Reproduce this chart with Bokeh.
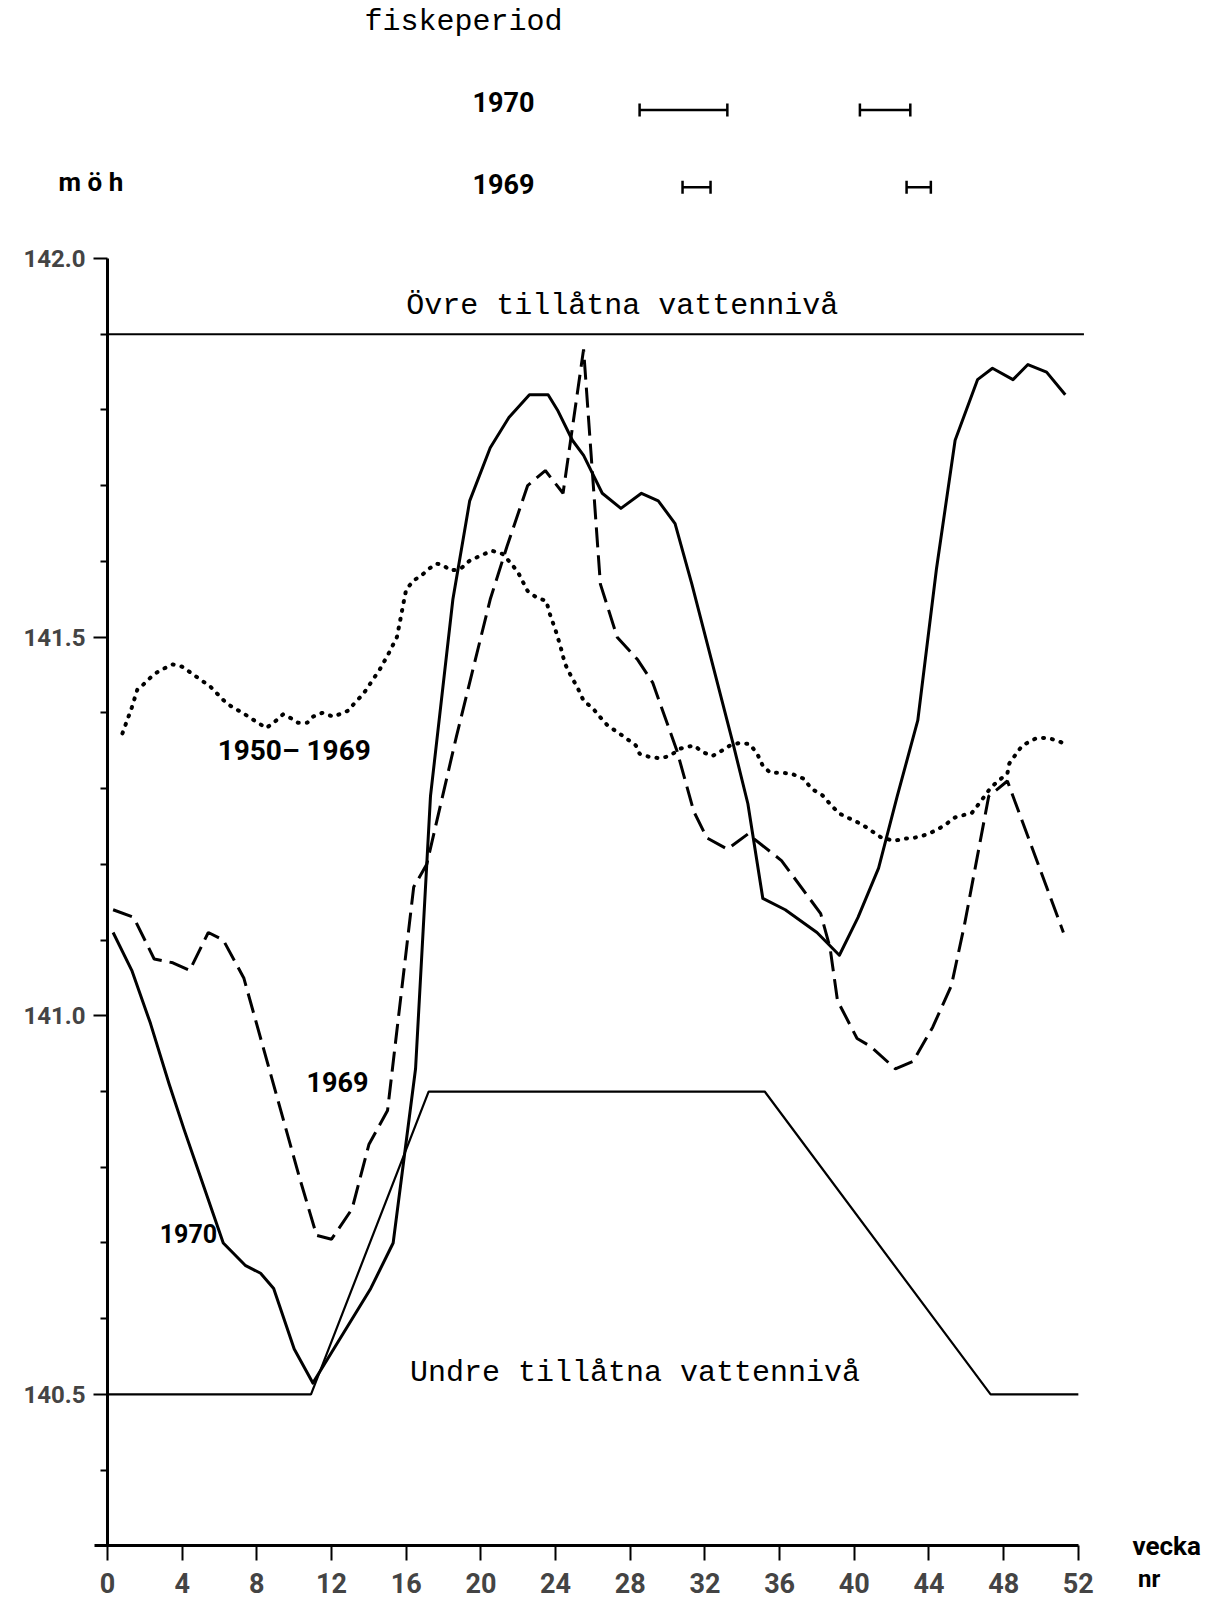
import math
from bokeh.plotting import figure
from bokeh.models import Range1d, FixedTicker, Label, LinearAxis, NumeralTickFormatter
from bokeh.embed import file_html
from bokeh.resources import INLINE

# Water level (m above sea level) per week
weeks_1970 = [0.3, 1.3, 2.3, 3.3, 4.1, 4.8, 6.2, 7.4, 8.2, 8.9, 10.0, 11.0, 14.1, 15.3, 16.5,
              17.3, 18.5, 19.4, 20.5, 21.5, 22.6, 23.6, 24.1, 24.9, 25.5, 26.5, 27.5, 28.6,
              29.5, 30.4, 31.3, 33.5, 34.3, 35.1, 36.3, 38.0, 39.2, 40.2, 41.3, 42.3, 43.4,
              44.4, 45.4, 46.6, 47.4, 48.5, 49.3, 50.3, 51.3]
level_1970 = [141.11, 141.06, 140.99, 140.91, 140.85, 140.80, 140.70, 140.67, 140.66, 140.64,
              140.56, 140.515, 140.64, 140.70, 140.93, 141.29, 141.55, 141.68, 141.75, 141.79,
              141.82, 141.82, 141.80, 141.76, 141.74, 141.69, 141.67, 141.69, 141.68, 141.65,
              141.57, 141.36, 141.28, 141.155, 141.14, 141.11, 141.08, 141.13, 141.195, 141.29,
              141.39, 141.59, 141.76, 141.84, 141.855, 141.84, 141.86, 141.85, 141.82]

weeks_1969 = [0.3, 1.4, 2.5, 3.5, 4.4, 5.4, 6.2, 7.3, 10.3, 11.2, 12.0, 13.1, 14.0, 15.0, 16.4,
              17.1, 18.7, 20.5, 21.4, 22.5, 23.45, 24.4, 25.5, 26.4, 27.3, 28.4, 29.2, 30.5,
              31.4, 32.1, 33.2, 34.3, 36.1, 38.2, 38.7, 39.1, 40.15, 40.85, 42.2, 43.15, 44.2,
              45.2, 45.9, 47.2, 48.2, 50.3, 51.2]
level_1969 = [141.14, 141.13, 141.075, 141.07, 141.06, 141.11, 141.10, 141.05, 140.785, 140.71,
              140.705, 140.745, 140.83, 140.875, 141.17, 141.20, 141.37, 141.55, 141.62, 141.70,
              141.72, 141.69, 141.88, 141.57, 141.50, 141.47, 141.44, 141.35, 141.27, 141.235,
              141.22, 141.24, 141.205, 141.135, 141.09, 141.02, 140.97, 140.96, 140.93, 140.94,
              140.985, 141.04, 141.12, 141.29, 141.31, 141.17, 141.11]

weeks_mean = [0.8, 1.3, 1.6, 1.9, 2.4, 2.8, 3.5, 4.0, 4.4, 4.8, 5.5, 6.4, 7.3, 7.8, 8.5, 8.9,
              9.4, 9.9, 10.2, 10.7, 11.0, 11.5, 12.1, 12.5, 12.9, 13.2, 13.7, 14.0, 14.6, 15.05,
              15.5, 15.7, 15.9, 16.0, 16.4, 16.8, 17.2, 17.6, 17.9, 18.4, 18.9, 19.4, 20.1, 20.6,
              21.15, 21.6, 22.0, 22.5, 23.0, 23.5, 23.7, 24.0, 24.25, 24.5, 24.8, 25.2, 25.5,
              26.0, 26.4, 26.8, 27.35, 27.8, 28.3, 28.5, 29.0, 29.6, 30.1, 30.7, 31.4, 31.9,
              32.4, 32.9, 33.35, 33.8, 34.4, 34.8, 35.1, 35.5, 36.0, 36.6, 37.3, 37.7, 38.3,
              38.8, 39.2, 39.8, 40.3, 40.7, 41.4, 42.1, 42.7, 43.2, 43.7, 44.3, 44.8, 45.4,
              46.3, 46.8, 47.3, 47.7, 48.2, 48.3, 48.7, 49.0, 49.7, 50.1, 50.5, 50.9, 51.3]
level_mean = [141.373, 141.407, 141.431, 141.437, 141.449, 141.456, 141.464, 141.461, 141.454,
              141.447, 141.435, 141.412, 141.399, 141.391, 141.380, 141.387, 141.398, 141.392,
              141.387, 141.387, 141.395, 141.400, 141.395, 141.399, 141.403, 141.412, 141.425,
              141.436, 141.458, 141.478, 141.500, 141.525, 141.551, 141.563, 141.575, 141.581,
              141.590, 141.597, 141.596, 141.588, 141.590, 141.601, 141.609, 141.614, 141.610,
              141.598, 141.585, 141.561, 141.552, 141.548, 141.530, 141.509, 141.489, 141.465,
              141.450, 141.432, 141.416, 141.406, 141.394, 141.383, 141.374, 141.366, 141.357,
              141.346, 141.342, 141.340, 141.343, 141.353, 141.357, 141.348, 141.343, 141.350,
              141.357, 141.360, 141.359, 141.346, 141.330, 141.321, 141.321, 141.320, 141.313,
              141.300, 141.291, 141.277, 141.267, 141.260, 141.254, 141.248, 141.236, 141.231,
              141.234, 141.235, 141.238, 141.244, 141.251, 141.262, 141.268, 141.284, 141.301,
              141.310, 141.320, 141.333, 141.347, 141.357, 141.366, 141.367, 141.366, 141.363,
              141.359]

# Permitted upper and lower regulation levels
upper_weeks = [0, 52.3]
upper_level = [141.9, 141.9]
lower_weeks = [0, 10.9, 17.2, 35.2, 47.3, 52.0]
lower_level = [140.5, 140.5, 140.9, 140.9, 140.5, 140.5]

# Fishing periods (start/end week), drawn in two rows above the chart
fish_1970_start = [28.5, 40.3]
fish_1970_end = [33.2, 43.0]
fish_1969_start = [30.8, 42.8]
fish_1969_end = [32.3, 44.1]
ROW_1970, ROW_1969 = 142.196, 142.094

x_ticks = list(range(0, 53, 4))
y_major = [140.5, 141.0, 141.5, 142.0]
y_minor = [140.4, 140.6, 140.7, 140.8, 140.9, 141.1, 141.2, 141.3, 141.4,
           141.6, 141.7, 141.8, 141.9]

MONO = "Liberation Mono"
SANS = "Roboto"

W, H = 1221, 1600
PX_PER_WEEK = 18.67
PX_PER_M = 757.3
AXIS_X, TOP_Y = 107, 258        # pixel of week 0 / of level 142.0

p = figure(width=W, height=H,
           x_range=Range1d(-AXIS_X / PX_PER_WEEK, (W - AXIS_X) / PX_PER_WEEK),
           y_range=Range1d(142.0 - (H - TOP_Y) / PX_PER_M, 142.0 + TOP_Y / PX_PER_M),
           output_backend="svg", toolbar_location=None,
           x_axis_location=None, y_axis_location=None,
           min_border_left=0, min_border_right=0, min_border_top=0, min_border_bottom=0)
p.grid.grid_line_color = None
p.outline_line_color = None
p.background_fill_color = "white"
p.border_fill_color = "white"

# Axes are pinned inside the frame so the captions around them stay visible
xaxis = LinearAxis(ticker=FixedTicker(ticks=x_ticks, minor_ticks=[]), bounds=(-0.7, 52),
                   fixed_location=140.3,
                   axis_line_width=3, major_tick_out=15, major_tick_in=0,
                   major_tick_line_width=2, minor_tick_out=0,
                   major_label_text_font=SANS, major_label_text_font_size="27px",
                   major_label_text_font_style="bold", major_label_standoff=12)
p.add_layout(xaxis, "below")

yaxis = LinearAxis(ticker=FixedTicker(ticks=y_major, minor_ticks=y_minor), bounds=(140.3, 142.0),
                   fixed_location=0,
                   formatter=NumeralTickFormatter(format="0.0"),
                   axis_line_width=3, major_tick_out=14, major_tick_in=0,
                   major_tick_line_width=2, minor_tick_out=7, minor_tick_in=0,
                   minor_tick_line_width=2,
                   major_label_text_font=SANS, major_label_text_font_size="24px",
                   major_label_text_font_style="bold", major_label_standoff=8)
p.add_layout(yaxis, "left")

# Regulation limits
p.line(upper_weeks, upper_level, line_color="black", line_width=2.2)
p.line(lower_weeks, lower_level, line_color="black", line_width=2.2)

# Water level curves
p.line(weeks_mean, level_mean, line_color="black", line_width=4, line_dash="1 8",
       line_cap="round")
p.line(weeks_1969, level_1969, line_color="black", line_width=3, line_dash="20 8")
p.line(weeks_1970, level_1970, line_color="black", line_width=3, line_join="round")

# Fishing periods
p.segment(x0=fish_1970_start, y0=[ROW_1970] * 2, x1=fish_1970_end, y1=[ROW_1970] * 2,
          line_color="black", line_width=2.5)
p.segment(x0=fish_1969_start, y0=[ROW_1969] * 2, x1=fish_1969_end, y1=[ROW_1969] * 2,
          line_color="black", line_width=2.5)
p.scatter(x=fish_1970_start + fish_1970_end, y=[ROW_1970] * 4, marker="dash",
          angle=math.pi / 2, size=13, line_color="black", line_width=2.5)
p.scatter(x=fish_1969_start + fish_1969_end, y=[ROW_1969] * 4, marker="dash",
          angle=math.pi / 2, size=13, line_color="black", line_width=2.5)


def label(x, y, text, font, size, bold=False):
    p.add_layout(Label(x=x, y=y, text=text, text_font=font, text_font_size=size,
                       text_font_style="bold" if bold else "normal",
                       text_align="left", text_baseline="middle", text_color="black"))


label(13.77, 142.312, "fiskeperiod", MONO, "30px")
label(19.55, 142.206, "1970", SANS, "27px", True)
label(19.55, 142.098, "1969", SANS, "27px", True)
label(-2.62, 142.101, "m ö h", SANS, "26px", True)
label(16.0, 141.937, "Övre tillåtna vattennivå", MONO, "30px")
label(16.2, 140.528, "Undre tillåtna vattennivå", MONO, "30px")
label(5.9, 141.35, "1950– 1969", SANS, "28px", True)
label(10.66, 140.913, "1969", SANS, "27px", True)
label(2.8, 140.713, "1970", SANS, "25px", True)
label(54.9, 140.3, "vecka", SANS, "26px", True)
label(55.2, 140.256, "nr", SANS, "24px", True)

open("out.html", "w").write(file_html(p, INLINE))
